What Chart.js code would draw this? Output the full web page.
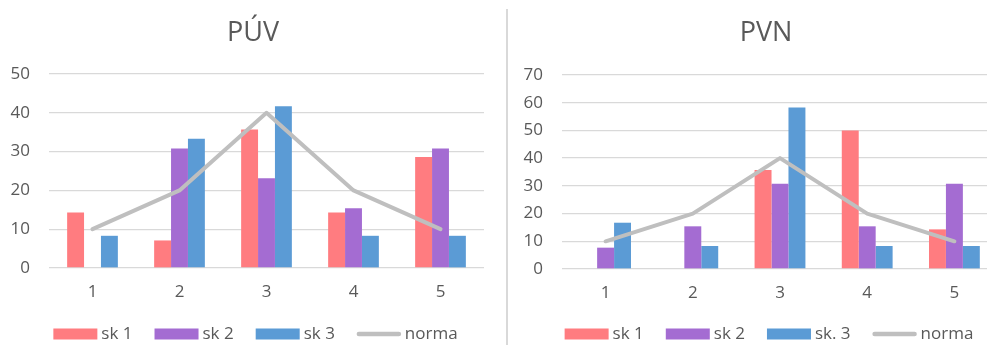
<!DOCTYPE html>
<html>
<head>
<meta charset="utf-8">
<script src="https://cdn.jsdelivr.net/npm/chart.js@4/dist/chart.umd.min.js"></script>
<style>
  html, body { margin: 0; padding: 0; background: #fff; }
  #wrap { position: relative; width: 987px; height: 345px; overflow: hidden; background: #fff; }
  #left { position: absolute; left: 0; top: 0; }
  #right { position: absolute; left: 508px; top: 0; }
  #sep { position: absolute; left: 506px; top: 9px; width: 2px; height: 336px; background: #D9D9D9; }
</style>
</head>
<body>
<div id="wrap">
  <canvas id="left" width="508" height="345"></canvas>
  <div id="sep"></div>
  <canvas id="right" width="518" height="345"></canvas>
</div>
<script>
// Score categories on the x axis
const categories = ['1', '2', '3', '4', '5'];

// Expected distribution (%)
const norma = [10, 20, 40, 20, 10];

// PÚV – share of pupils per score (%)
const puvSk1 = [14.3, 7.1, 35.7, 14.3, 28.6];
const puvSk2 = [0, 30.8, 23.1, 15.4, 30.8];
const puvSk3 = [8.3, 33.3, 41.7, 8.3, 8.3];

// PVN – share of pupils per score (%)
const pvnSk1 = [0, 0, 35.7, 50, 14.3];
const pvnSk2 = [7.7, 15.4, 30.8, 15.4, 30.8];
const pvnSk3 = [16.7, 8.3, 58.3, 8.3, 8.3];

// Axis ranges
const puvMax = 50;
const pvnMax = 70;
const yStep = 10;

const FONT = '"Open Sans", "DejaVu Sans", sans-serif';
const TEXT = '#595959';
const GRID = '#D9D9D9';
const C1 = '#FF7C80';
const C2 = '#A46CD2';
const C3 = '#5B9BD5';
const CN = '#BFBFBF';

// Heading above the plot and legend under it: colour swatch (or line) followed by the series name
const frame = {
  id: 'frame',
  afterDraw(chart, args, o) {
    const ctx = chart.ctx;
    ctx.save();
    ctx.textBaseline = 'middle';

    ctx.font = `${o.titleSize}px ${FONT}`;
    ctx.textAlign = 'center';
    ctx.fillStyle = TEXT;
    ctx.fillText(o.title, o.titleX, o.titleY);

    ctx.textAlign = 'left';
    ctx.font = `${o.size}px ${FONT}`;
    const items = chart.data.datasets.map(ds => ({
      text: ds.label,
      line: ds.type === 'line',
      color: ds.type === 'line' ? ds.borderColor : ds.backgroundColor
    }));
    const widths = items.map(it => o.boxWidth + o.textGap + ctx.measureText(it.text).width);
    const total = widths.reduce((a, b) => a + b, 0) + o.itemGap * (items.length - 1);
    let x = o.centerX - total / 2;
    items.forEach((it, i) => {
      if (it.line) {
        ctx.strokeStyle = it.color;
        ctx.lineWidth = o.lineWidth;
        ctx.lineCap = 'round';
        ctx.beginPath();
        ctx.moveTo(x + 2, o.y);
        ctx.lineTo(x + o.boxWidth - 2, o.y);
        ctx.stroke();
      } else {
        ctx.fillStyle = it.color;
        ctx.fillRect(x, o.y - o.boxHeight / 2, o.boxWidth, o.boxHeight);
      }
      ctx.fillStyle = TEXT;
      ctx.fillText(it.text, x + o.boxWidth + o.textGap, o.y);
      x += widths[i] + o.itemGap;
    });
    ctx.restore();
  }
};

function makeChart(canvasId, title, s1, s2, s3, labels, yMax, pad) {
  const bar = (label, data, color) => ({
    type: 'bar', label, data, backgroundColor: color, borderWidth: 0,
    categoryPercentage: 0.583, barPercentage: 1, order: 1
  });
  return new Chart(document.getElementById(canvasId), {
    type: 'bar',
    data: {
      labels: categories,
      datasets: [
        bar(labels[0], s1, C1),
        bar(labels[1], s2, C2),
        bar(labels[2], s3, C3),
        {
          type: 'line', label: labels[3], data: norma,
          borderColor: CN, backgroundColor: CN, borderWidth: 4,
          pointRadius: 0, pointHoverRadius: 0, tension: 0,
          borderCapStyle: 'round', borderJoinStyle: 'round', order: 0
        }
      ]
    },
    options: {
      responsive: false,
      devicePixelRatio: 1,
      animation: false,
      events: [],
      layout: { padding: pad.layout },
      plugins: {
        legend: { display: false },
        tooltip: { enabled: false },
        title: { display: false },
        frame: {
          title, titleSize: 27, titleX: pad.center, titleY: 33,
          centerX: pad.legendCenter, y: 334, size: 17,
          boxWidth: 44, boxHeight: 11, textGap: 4, itemGap: 22, lineWidth: 4.5
        }
      },
      scales: {
        x: {
          grid: { display: false, drawTicks: false },
          border: { display: false },
          ticks: { color: TEXT, font: { family: FONT, size: 17 }, padding: 14 }
        },
        y: {
          min: 0, max: yMax,
          afterFit: s => { s.width = pad.yWidth; },
          grid: { color: GRID, lineWidth: 1.3, drawTicks: false },
          border: { display: false },
          ticks: { stepSize: yStep, color: TEXT, font: { family: FONT, size: 17 }, padding: 19 }
        }
      }
    },
    plugins: [frame]
  });
}

makeChart('left', 'PÚV', puvSk1, puvSk2, puvSk3, ['sk 1', 'sk 2', 'sk 3', 'norma'], puvMax,
  { layout: { top: 74, left: 0, right: 24, bottom: 28.6 }, yWidth: 49, center: 253, legendCenter: 255.5 });

makeChart('right', 'PVN', pvnSk1, pvnSk2, pvnSk3, ['sk 1', 'sk 2', 'sk. 3', 'norma'], pvnMax,
  { layout: { top: 75, left: 0, right: 28, bottom: 27.6 }, yWidth: 54, center: 258, legendCenter: 261 });
</script>
</body>
</html>
